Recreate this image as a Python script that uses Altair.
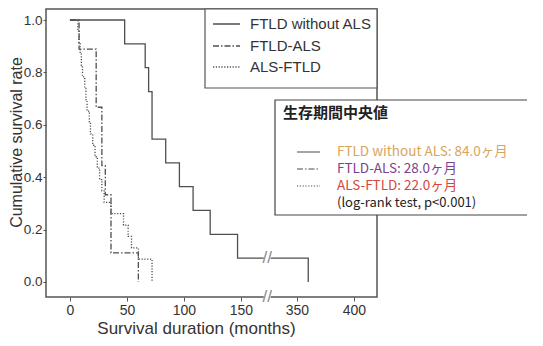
import altair as alt
import pandas as pd

# ---------------- data ----------------
series_names = ["FTLD without ALS", "FTLD-ALS", "ALS-FTLD"]

ftld_t = [0, 48, 66, 69, 72, 84, 96, 108, 123, 147, 360]
ftld_s = [1.0, 0.909, 0.818, 0.727, 0.545, 0.455, 0.364, 0.273, 0.182, 0.091, 0.0]

ftld_als_t = [0, 8, 23, 28, 31, 36, 60]
ftld_als_s = [1.0, 0.889, 0.667, 0.444, 0.333, 0.111, 0.0]

als_ftld_t = [0, 7, 8, 9, 10, 11, 13, 14, 15, 17, 18, 20, 22, 24, 26, 28, 30, 36, 47, 51, 54, 60, 72]
als_ftld_s = [1.0, 0.957, 0.913, 0.870, 0.826, 0.783, 0.739, 0.696, 0.652, 0.609, 0.565,
              0.522, 0.478, 0.435, 0.391, 0.348, 0.304, 0.261, 0.217, 0.174, 0.130, 0.087, 0.0]

x_tick_labels = [0, 50, 100, 150, 350, 400]
y_tick_values = [0.0, 0.2, 0.4, 0.6, 0.8, 1.0]

box_title = "生存期間中央値"
median_labels = ["FTLD without ALS: 84.0ヶ月", "FTLD-ALS: 28.0ヶ月", "ALS-FTLD: 22.0ヶ月"]
test_label = "(log-rank test, p<0.001)"

# broken axis: months after BREAK_START are shifted left by GAP
BREAK_START = 175
GAP = 151
BREAK_AT = 173

def disp(t):
    return t - GAP if t > BREAK_START else t

rows = []
for name, ts, ss in [(series_names[0], ftld_t, ftld_s),
                     (series_names[1], ftld_als_t, ftld_als_s),
                     (series_names[2], als_ftld_t, als_ftld_s)]:
    for t, s in zip(ts, ss):
        rows.append({"series": name, "t": t, "s": s})
km = pd.DataFrame(rows)

X_DOM = [-21.0, 269.3]
Y_DOM = [-0.0573, 1.042]
LINE = "#4f4f4f"
DASHES = [[1, 0], [6, 2, 1.5, 2], [1.2, 1.6]]

xscale = alt.Scale(domain=X_DOM, nice=False, zero=False)
yscale = alt.Scale(domain=Y_DOM, nice=False, zero=False)

tick_positions = [disp(v) for v in x_tick_labels]

curves = alt.Chart(km).transform_calculate(
    d=f"datum.t > {BREAK_START} ? datum.t - {GAP} : datum.t"
).mark_line(interpolate="step-after", strokeWidth=1.3, color=LINE).encode(
    x=alt.X("d:Q", scale=xscale,
            axis=alt.Axis(values=tick_positions,
                          labelExpr=f"format(datum.value > {BREAK_START} ? datum.value + {GAP} : datum.value, 'd')",
                          title="Survival duration (months)", titleX=150, titleAnchor="middle")),
    y=alt.Y("s:Q", scale=yscale,
            axis=alt.Axis(values=y_tick_values, format=".1f", title="Cumulative survival rate",
                          titleX=-29.5, titleY=133, titleBaseline="middle", titleAngle=270,
                          titleAlign="center", titleFontSize=16, labelFontSize=13.5,
                          labelPadding=1)),
    strokeDash=alt.StrokeDash("series:N", scale=alt.Scale(domain=series_names, range=DASHES), legend=None),
    detail="series:N",
)

# break marks
brk = pd.DataFrame({"level": [ftld_s[-2], Y_DOM[0]]})
brk_white = alt.Chart(brk).mark_rect(color="white").encode(
    x=alt.datum(BREAK_AT - 3, scale=xscale), x2=alt.datum(BREAK_AT + 3),
    y=alt.Y("y1:Q", scale=yscale), y2="y2:Q",
).transform_calculate(y1="datum.level + 0.025", y2="datum.level - 0.025")
brk_text = alt.Chart(brk).mark_text(text="//", fontSize=17, color="#8a8a8a",
                                    font="Liberation Sans", baseline="middle", align="center").encode(
    x=alt.datum(BREAK_AT, scale=xscale), y=alt.Y("level:Q", scale=yscale)
)

layers = [curves, brk_white, brk_text]

# ---------- top legend ----------
one = pd.DataFrame({"k": [0]})
layers.append(alt.Chart(one).mark_rect(fill="white", stroke="#555", strokeWidth=1.2).encode(
    x=alt.value(159), x2=alt.value(331), y=alt.value(0), y2=alt.value(79)))
leg_y = [15, 37, 58]
for i, name in enumerate(series_names):
    layers.append(alt.Chart(one).mark_rule(color=LINE, strokeWidth=1.3, strokeDash=DASHES[i]).encode(
        x=alt.value(167), x2=alt.value(194), y=alt.value(leg_y[i])))
    layers.append(alt.Chart(pd.DataFrame({"label": [name]})).mark_text(
        align="left", baseline="middle", fontSize=15, font="Liberation Sans", color="#333").encode(
        x=alt.value(204), y=alt.value(leg_y[i]), text="label:N"))

# ---------- median box ----------
layers.append(alt.Chart(one).mark_rect(fill="white", stroke="#444", strokeWidth=1.2).encode(
    x=alt.value(229), x2=alt.value(520), y=alt.value(91), y2=alt.value(206)))
layers.append(alt.Chart(pd.DataFrame({"label": [box_title]})).mark_text(
    align="left", baseline="middle", fontSize=15, fontWeight="bold",
    font="Noto Sans CJK JP", color="#222").encode(
    x=alt.value(237), y=alt.value(104), text="label:N"))
med_y = [143, 160, 177, 194]
med_colors = ["#d7a55c", "#7d3f8e", "#d5463c"]
for i, lab in enumerate(median_labels):
    layers.append(alt.Chart(one).mark_rule(color=LINE, strokeWidth=1.2, strokeDash=DASHES[i]).encode(
        x=alt.value(251), x2=alt.value(274), y=alt.value(med_y[i])))
    layers.append(alt.Chart(pd.DataFrame({"label": [lab]})).mark_text(
        align="left", baseline="middle", fontSize=13.5, font="Noto Sans CJK JP",
        color=med_colors[i]).encode(
        x=alt.value(291), y=alt.value(med_y[i]), text="label:N"))
layers.append(alt.Chart(pd.DataFrame({"label": [test_label]})).mark_text(
    align="left", baseline="middle", fontSize=13, font="Noto Sans CJK JP", color="#222").encode(
    x=alt.value(291), y=alt.value(med_y[3]), text="label:N"))

chart = alt.layer(*layers).properties(
    width=331, height=288,
    autosize=alt.AutoSizeParams(type="none"),
    padding={"left": 38, "top": 1, "right": 150, "bottom": 40},
).configure_view(stroke="#555", strokeWidth=1.5).configure_axis(
    domain=False, grid=False, labelFont="Liberation Sans", titleFont="Liberation Sans",
    labelFontSize=14, titleFontSize=17, titleFontWeight="normal",
    labelColor="#333", titleColor="#333", tickColor="#555", tickSize=3, labelPadding=2,
).configure_axisX(titlePadding=3, tickSize=4)

chart.save("out.html", embed_options={"renderer": "svg", "actions": False})
